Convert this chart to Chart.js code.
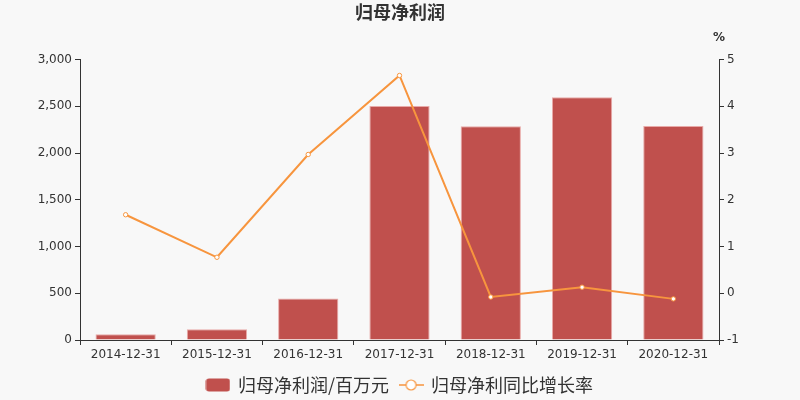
<!DOCTYPE html>
<html>
<head>
<meta charset="utf-8">
<script src="https://cdn.jsdelivr.net/npm/chart.js@4/dist/chart.umd.min.js"></script>
<style>
html,body{margin:0;padding:0;background:#f8f8f8;}
#wrap{width:800px;height:400px;}
</style>
</head>
<body>
<div id="wrap"><canvas id="c" width="800" height="400"></canvas></div>
<script>
const categories = ['2014-12-31','2015-12-31','2016-12-31','2017-12-31','2018-12-31','2019-12-31','2020-12-31'];
const profitValues = [62, 115, 445, 2503, 2288, 2596, 2290];
const growthValues = [1.68, 0.77, 2.97, 4.66, -0.08, 0.13, -0.12];
const leftTicks = [0, 3000, 500];
const rightTicks = [-1, 5, 1];
const titleText = '归母净利润';
const barLabel = '归母净利润/百万元';
const lineLabel = '归母净利同比增长率';

const BAR = '#c0504d';
const LINE = '#f7953e';
const TXT = '#333333';
const FONT = "'DejaVu Sans', 'Noto Sans CJK SC', sans-serif";
const LFONT = "'Noto Sans CJK SC', 'DejaVu Sans', sans-serif";

function barIcon(){
  const c = document.createElement('canvas'); c.width = 25; c.height = 14;
  const x = c.getContext('2d');
  x.fillStyle = BAR;
  x.beginPath(); x.roundRect(0.5, 0.5, 24, 13, 3); x.fill();
  return c;
}
function lineIcon(){
  const c = document.createElement('canvas'); c.width = 25; c.height = 14;
  const x = c.getContext('2d');
  x.strokeStyle = LINE; x.lineWidth = 1.5;
  x.beginPath(); x.moveTo(0, 7); x.lineTo(25, 7); x.stroke();
  x.fillStyle = '#ffffff'; x.lineWidth = 1.2;
  x.beginPath(); x.arc(12.5, 7, 5, 0, Math.PI*2); x.fill(); x.stroke();
  return c;
}
const icons = [barIcon(), lineIcon()];

const extras = {
  id: 'extras',
  afterDraw(chart){
    const ctx = chart.ctx;
    const r = chart.scales.y1;
    ctx.save();
    ctx.fillStyle = TXT;
    ctx.font = "bold 12px " + FONT;
    ctx.textAlign = 'center';
    ctx.textBaseline = 'middle';
    ctx.fillText('%', r.left, 38);
    ctx.restore();
  }
};

new Chart(document.getElementById('c'), {
  data: {
    labels: categories,
    datasets: [
      {
        type: 'bar', label: barLabel, data: profitValues, yAxisID: 'y',
        backgroundColor: BAR, borderColor: 'rgba(232,170,168,1)', borderWidth: 1,
        borderSkipped: 'bottom', barPercentage: 0.66, categoryPercentage: 1, order: 1
      },
      {
        type: 'line', label: lineLabel, data: growthValues, yAxisID: 'y1',
        borderColor: LINE, borderWidth: 2, pointRadius: 2.2, pointBorderWidth: 1,
        pointBackgroundColor: '#ffffff', pointBorderColor: LINE, tension: 0, order: 0
      }
    ]
  },
  options: {
    responsive: false, animation: false, locale: 'en-US',
    layout: { padding: { left: 0, right: 0, top: 0, bottom: -4 } },
    plugins: {
      tooltip: { enabled: false },
      title: {
        display: true, text: titleText, color: TXT,
        font: { family: FONT, size: 18, weight: 'bold' },
        padding: { top: 4, bottom: 34 }
      },
      legend: {
        position: 'bottom',
        labels: {
          color: TXT, font: { family: LFONT, size: 18 },
          usePointStyle: true, pointStyleWidth: 22, boxHeight: 14, padding: 11,
          sort: (a, b) => a.datasetIndex - b.datasetIndex,
          generateLabels(chart){
            const items = Chart.defaults.plugins.legend.labels.generateLabels(chart);
            items.forEach(it => { it.pointStyle = icons[it.datasetIndex]; });
            return items;
          }
        }
      }
    },
    scales: {
      x: {
        offset: true,
        grid: { display: true, offset: true, drawOnChartArea: false, tickLength: 5, color: TXT },
        border: { display: true, color: TXT, width: 1 },
        ticks: { color: TXT, font: { family: FONT, size: 12 }, maxRotation: 0, padding: 3 },
        afterFit(s){ s.height = 25; }
      },
      y: {
        position: 'left', min: leftTicks[0], max: leftTicks[1],
        ticks: { stepSize: leftTicks[2], color: TXT, font: { family: FONT, size: 12 }, padding: 3 },
        grid: { display: true, drawOnChartArea: false, tickLength: 5, color: TXT },
        border: { display: true, color: TXT, width: 1 },
        afterFit(s){ s.width = 80; }
      },
      y1: {
        position: 'right', min: rightTicks[0], max: rightTicks[1],
        ticks: { stepSize: rightTicks[2], color: TXT, font: { family: FONT, size: 12 }, padding: 3 },
        grid: { display: true, drawOnChartArea: false, tickLength: 5, color: TXT },
        border: { display: true, color: TXT, width: 1 },
        afterFit(s){ s.width = 81; }
      }
    }
  },
  plugins: [extras]
});
</script>
</body>
</html>
